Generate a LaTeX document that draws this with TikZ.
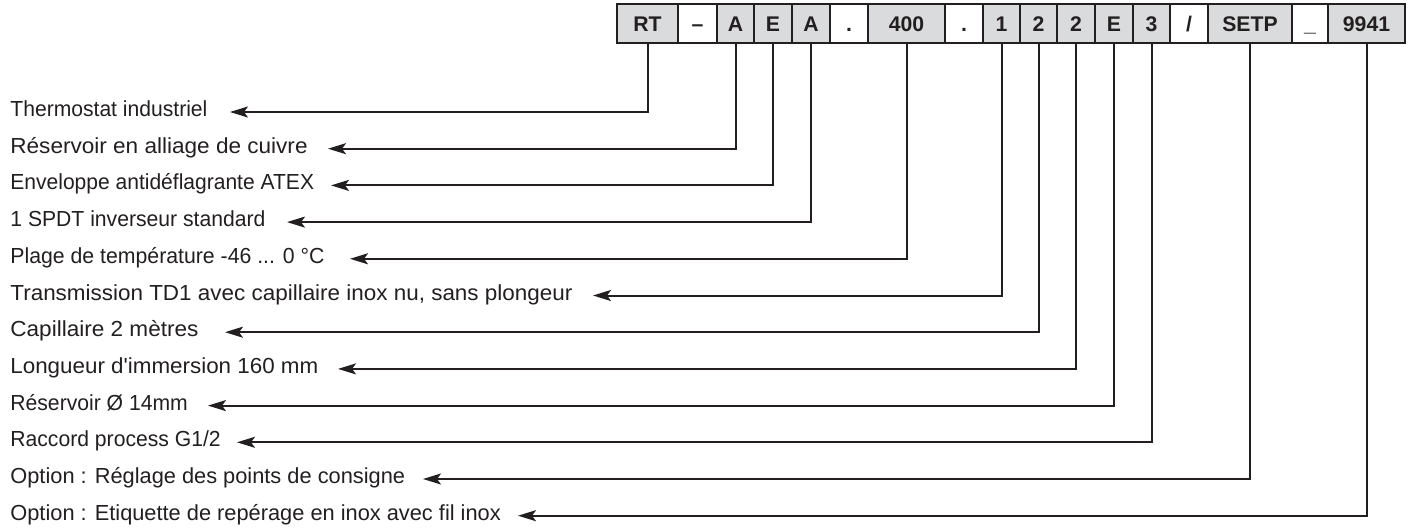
\documentclass[tikz,border=0pt]{standalone}
\usepackage{fontspec}
\setmainfont{Liberation Sans}[Ligatures=TeXOff]
\usetikzlibrary{arrows.meta}
\definecolor{ink}{RGB}{35,31,32}
\definecolor{cellgray}{RGB}{218,219,220}
\begin{document}
\begin{tikzpicture}[x=0.5pt,y=-0.5pt,
  cell/.style={draw=ink,line width=0.8pt,fill=cellgray,minimum height=19.5pt,
    inner sep=0pt,text height=7.7pt,text depth=0pt,text=ink,
    font=\fontsize{10.6}{13}\selectfont\bfseries},
  gap/.style={cell,fill=white},
  lbl/.style={anchor=base west,inner sep=0pt,text=ink,
    font=\fontsize{10.9}{13}\selectfont},
  lead/.style={draw=ink,line width=1pt,
    -{Stealth[length=9pt,width=5.5pt,inset=2pt]}}]
\useasboundingbox (0,0) rectangle (1413,530);

% order code cells
\node[cell,minimum width=30.5pt] (c1)  at (647.5,23.5) {RT};
\node[gap, minimum width=19.5pt] (s1)  at (697.5,23.5) {–};
\node[cell,minimum width=18.5pt] (c2)  at (735.5,23.5) {A};
\node[cell,minimum width=19pt]   (c3)  at (773,23.5)   {E};
\node[cell,minimum width=19pt]   (c4)  at (811,23.5)   {A};
\node[gap, minimum width=19pt]   (s2)  at (849,23.5)   {.};
\node[cell,minimum width=38.5pt] (c5)  at (906.5,23.5) {400};
\node[gap, minimum width=19pt]   (s3)  at (964,23.5)   {.};
\node[cell,minimum width=18.5pt] (c6)  at (1001.5,23.5){1};
\node[cell,minimum width=18.5pt] (c7)  at (1038.5,23.5){2};
\node[cell,minimum width=19pt]   (c8)  at (1076,23.5)  {2};
\node[cell,minimum width=19pt]   (c9)  at (1114,23.5)  {E};
\node[cell,minimum width=18.5pt] (c10) at (1151.5,23.5){3};
\node[gap, minimum width=19pt]   (s4)  at (1189,23.5)  {/};
\node[cell,minimum width=42pt]   (c11) at (1250,23.5)  {SETP};
\node[gap, minimum width=18pt]   (s5)  at (1310,23.5)  {\_};
\node[cell,minimum width=38.5pt] (c12) at (1366.5,23.5){9941};

% descriptions (each set to its own line length)
\node[lbl] (l1)  at (10,116.5) {\scalebox{0.968}[1]{Thermostat industriel}};
\node[lbl] (l2)  at (10,153.2) {\scalebox{1.035}[1]{Réservoir en alliage de cuivre}};
\node[lbl] (l3)  at (10,189.9) {\scalebox{0.965}[1]{Enveloppe antidéflagrante ATEX}};
\node[lbl] (l4)  at (10,226.6) {\scalebox{0.97}[1]{1 SPDT inverseur standard}};
\node[lbl] (l5)  at (10,263.3) {\scalebox{0.975}[1]{Plage de température -46 ... 0 °C}};
\node[lbl] (l6)  at (10,300.0) {\scalebox{1.03}[1]{Transmission TD1 avec capillaire inox nu, sans plongeur}};
\node[lbl] (l7)  at (10,336.7) {\scalebox{1.035}[1]{Capillaire 2 mètres}};
\node[lbl] (l8)  at (10,373.4) {\scalebox{1.027}[1]{Longueur d'immersion 160 mm}};
\node[lbl] (l9)  at (10,410.1) {\scalebox{0.97}[1]{Réservoir Ø 14mm}};
\node[lbl] (l10) at (10,446.8) {\scalebox{0.97}[1]{Raccord process G1/2}};
\node[lbl] (l11) at (10,483.5) {Option : Réglage des points de consigne};
\node[lbl] (l12) at (10,520.2) {Option : Etiquette de repérage en inox avec fil inox};

% arrow tips
\coordinate (t1)  at (230,112);
\coordinate (t2)  at (328,148.7);
\coordinate (t3)  at (331,185.4);
\coordinate (t4)  at (287,222.1);
\coordinate (t5)  at (350,258.8);
\coordinate (t6)  at (593,295.5);
\coordinate (t7)  at (225,332.2);
\coordinate (t8)  at (338,368.9);
\coordinate (t9)  at (208,405.6);
\coordinate (t10) at (237,442.3);
\coordinate (t11) at (423,479);
\coordinate (t12) at (518,515.7);

% leaders from each cell to its description
\foreach \c/\t in {c1/t1,c2/t2,c3/t3,c4/t4,c5/t5,c6/t6,c7/t7,c8/t8,c9/t9,c10/t10,c11/t11,c12/t12}
  \draw[lead] (\c.south) |- (\t);
\end{tikzpicture}
\end{document}
